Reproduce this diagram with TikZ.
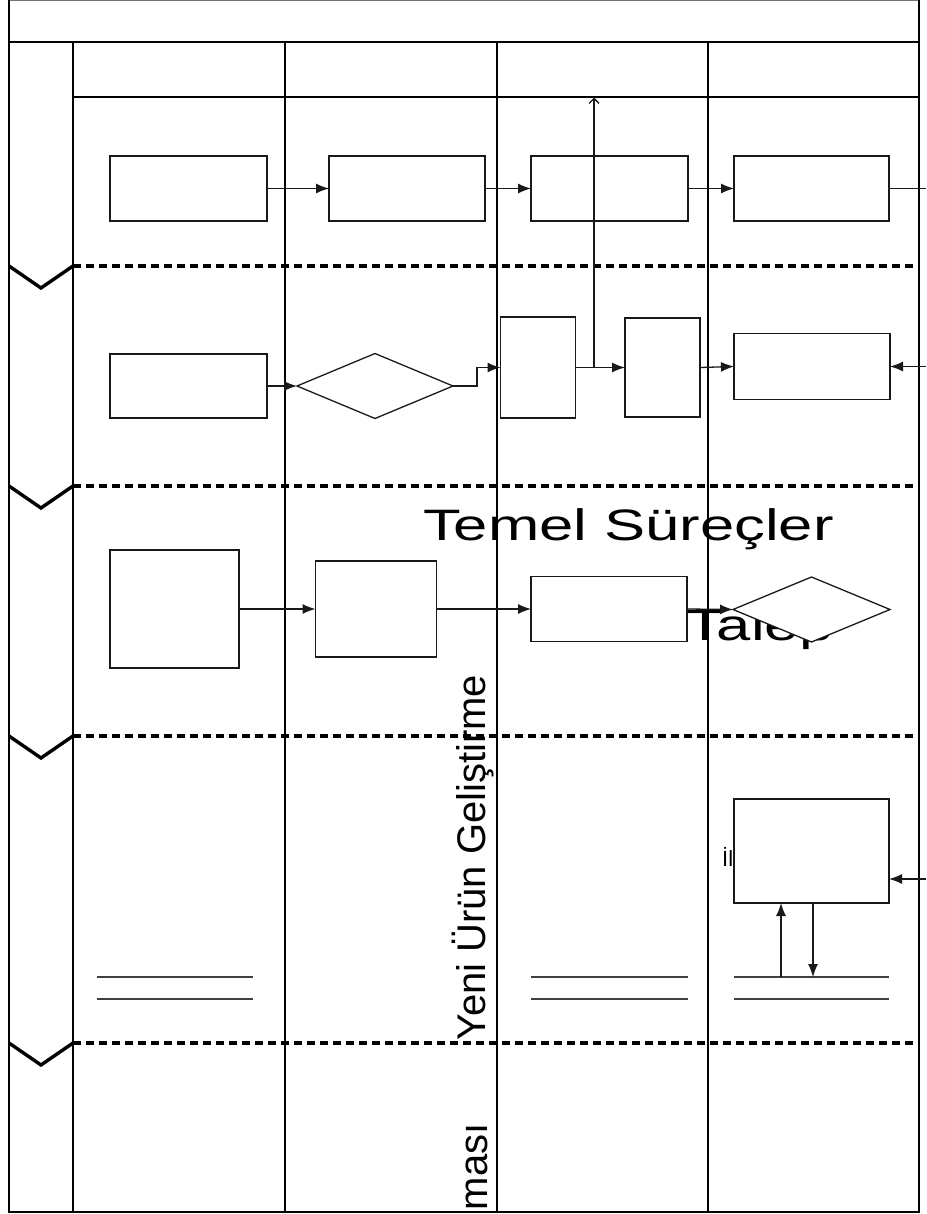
\documentclass[tikz,border=0pt]{standalone}
\usepackage{fontspec}
\setmainfont{Liberation Sans}
\usetikzlibrary{shapes.geometric,arrows.meta}
\begin{document}
\begin{tikzpicture}[x=1pt,y=-1pt,
  box/.style={draw=black!90,line width=1.3pt,fill=white,inner sep=0pt,outer sep=0pt,rectangle},
  dia/.style={draw=black!90,line width=1.3pt,fill=white,inner sep=0pt,outer sep=0pt,diamond},
  flow/.style={draw=black!90,line width=1.3pt,-{Latex[length=13pt,width=10pt]}},
  plain/.style={draw=black!90,line width=1.3pt},
  frm/.style={draw=black,line width=1.4pt},
  sepline/.style={draw=black,line width=3.2pt,dash pattern=on 8pt off 5pt},
  chev/.style={draw=black,line width=3.4pt,line join=miter},
  store/.style={draw=black!75,line width=1.3pt},
  big/.style={font=\fontsize{44}{44}\selectfont,inner sep=0pt,outer sep=0pt},
  vert/.style={font=\fontsize{40}{40}\selectfont,inner sep=0pt,outer sep=0pt,rotate=90}
]
\useasboundingbox (0,0) rectangle (926,1214);
% frame
\draw[draw=black!55,line width=1pt] (9,0.5) -- (919,0.5);
\draw[frm] (9,0) -- (9,1212) -- (919,1212) -- (919,0);
\draw[draw=black,line width=2.6pt] (9,42) -- (919,42);
\draw[frm] (73,97) -- (919,97);
\foreach \x in {73,285,497,708} \draw[frm] (\x,42) -- (\x,1212);
% separators with chevrons
\foreach \y in {266,486,736,1043} {
  \draw[chev] (9,\y) -- (41,\y+22) -- (73,\y);
  \draw[sepline] (73,\y) -- (919,\y);
}
% texts behind shapes
\node[big,anchor=base west] (talep) at (686,640) {\scalebox{1.40}[1]{Talep}};
\node[font=\fontsize{22}{22}\selectfont,inner sep=0pt,anchor=base west] (il) at (722,866) {İl};
% row 1
\node[box,minimum width=157pt,minimum height=65pt] (B1) at (188.5,188.5) {};
\node[box,minimum width=156pt,minimum height=65pt] (B2) at (407,188.5) {};
\node[box,minimum width=157pt,minimum height=65pt] (B3) at (609.5,188.5) {};
\node[box,minimum width=155pt,minimum height=65pt] (B4) at (811.5,188.5) {};
\coordinate (r1) at (926,188.5);
\draw[flow] (B1.east) -- (B2.west);
\draw[flow] (B2.east) -- (B3.west);
\draw[flow] (B3.east) -- (B4.west);
\draw[plain] (B4.east) -- (r1);
% row 2
\node[box,minimum width=157pt,minimum height=64pt] (C1) at (188.5,386) {};
\node[dia,minimum width=156pt,minimum height=65pt] (D1) at (375,386) {};
\node[box,minimum width=75pt,minimum height=101pt] (C3) at (538,367.5) {};
\node[box,minimum width=75pt,minimum height=99pt] (C4) at (662.5,367.5) {};
\node[box,minimum width=156pt,minimum height=66pt] (C5) at (812,366.5) {};
\coordinate (j) at (594,367.5);
\coordinate (tp) at (594,97.5);
\coordinate (r2) at (926,366.5);
\draw[flow] (C1.east) -- (D1.west);
\draw[flow] (D1.east) -- ++(24,0) |- (C3.west);
\draw[flow] (C3.east) -- (C4.west);
\draw[plain,-{Straight Barb[length=5pt,width=10pt]}] (j) -- (tp);
\draw[flow] (C4.east) -- (C5.west);
\draw[flow] (r2) -- (C5.east);
% row 3
\node[box,minimum width=129pt,minimum height=118pt] (E1) at (174.5,609) {};
\node[box,minimum width=121pt,minimum height=96pt] (E2) at (376,609) {};
\node[box,minimum width=156pt,minimum height=65pt] (E3) at (609,609) {};
\node[dia,minimum width=157pt,minimum height=65pt] (E4) at (811.5,609.5) {};
\draw[flow] (E1.east) -- (E2.west);
\draw[flow] (E2.east) -- (E3.west);
\draw[flow] (E3.east) -- (E4.west);
% row 4
\node[box,minimum width=155pt,minimum height=104pt] (F1) at (811.5,851) {};
\coordinate (r4) at (926,879);
\draw[flow] (r4) -- (r4 -| F1.east);
\draw[store] (97,977) -- (253,977) (97,999) -- (253,999);
\draw[store] (531,977) -- (688,977) (531,999) -- (688,999);
\draw[store] (734,977) -- (889,977) (734,999) -- (889,999);
\coordinate (s4a) at (781,977);
\coordinate (s4b) at (813,977);
\draw[flow] (s4a) -- (s4a |- F1.south);
\draw[flow] (s4b |- F1.south) -- (s4b);
% big texts on top
\node[big,anchor=base west] (temel) at (423,540) {\scalebox{1.40}[1]{Temel Süreçler}};
\node[vert,anchor=base west] (yeni) at (485,1040) {Yeni Ürün Geliştirme};
\node[vert,anchor=base west] (masi) at (487,1210) {ması};
\end{tikzpicture}
\end{document}
